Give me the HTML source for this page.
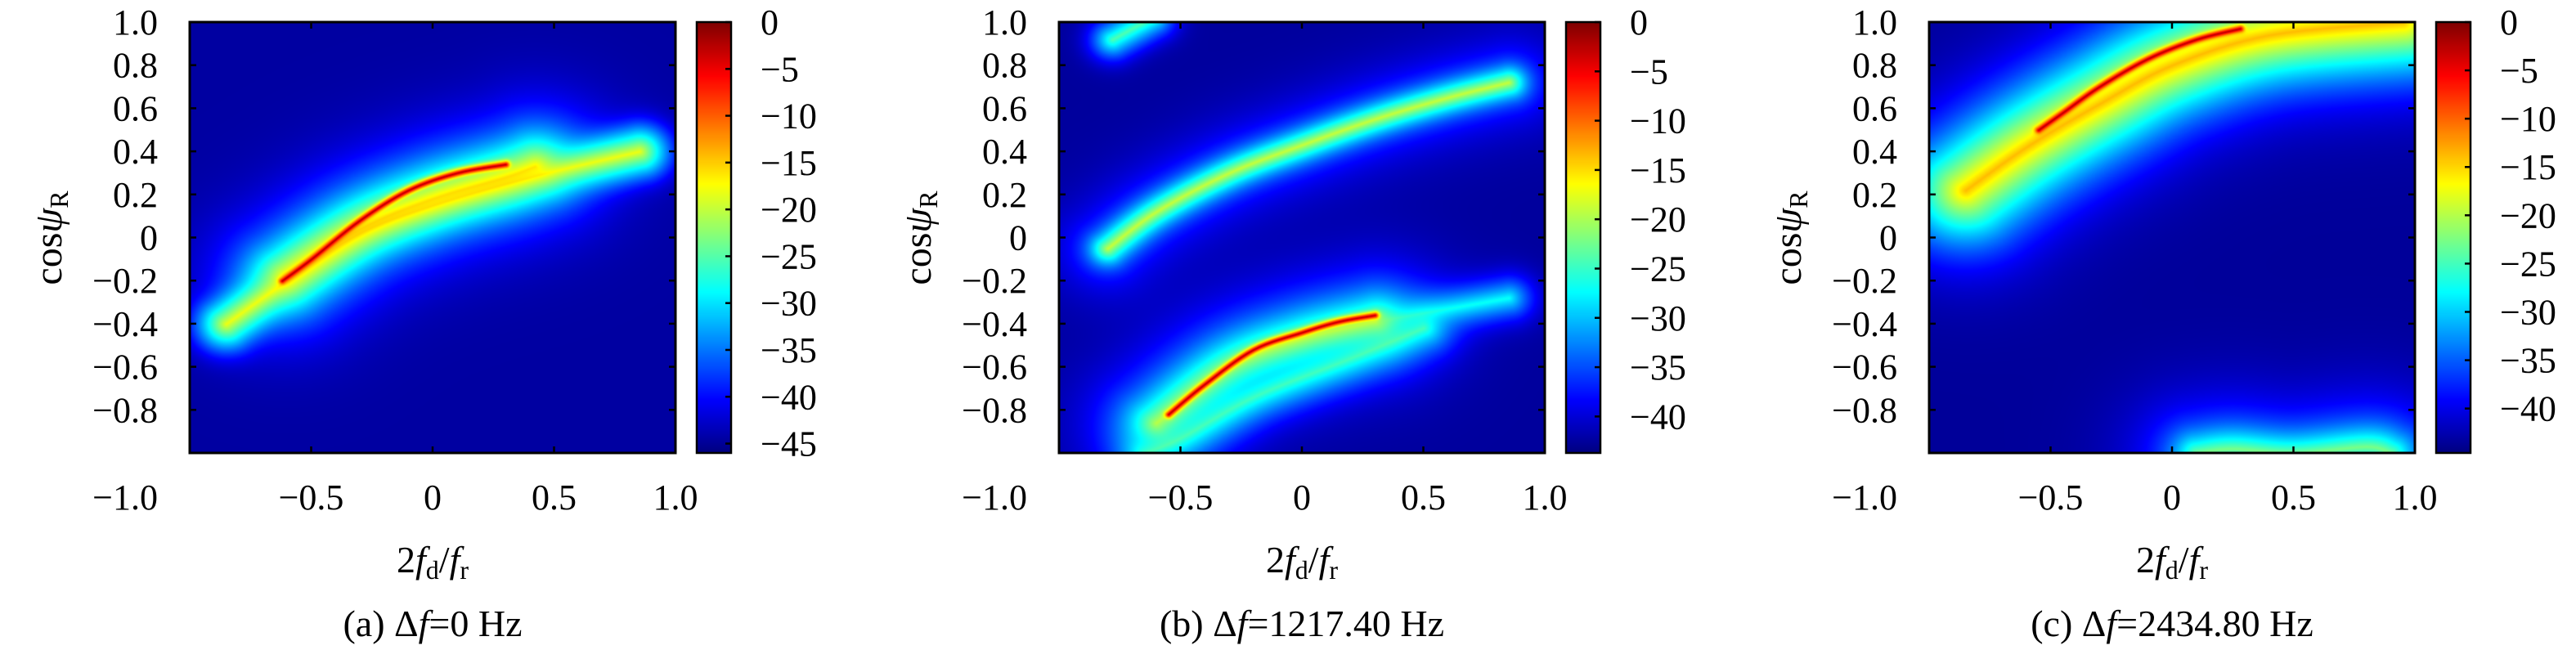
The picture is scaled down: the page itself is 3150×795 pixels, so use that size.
<!DOCTYPE html>
<html><head><meta charset="utf-8">
<style>
html,body{margin:0;padding:0;background:#fff;}
#root{position:relative;width:3150px;height:795px;overflow:hidden;background:#fff;}
canvas{position:absolute;}
svg{position:absolute;left:0;top:0;}
text{font-family:"Liberation Serif",serif;fill:#000;}
</style></head>
<body>
<div id="root">
<svg id="svg" width="3150" height="795"></svg>
</div>
<script>
// ---- data ----
const panelCaptionPrefix = ["(a) ", "(b) ", "(c) "];
const panelCaptionValue = ["=0 Hz", "=1217.40 Hz", "=2434.80 Hz"];
const cbarMin = [-46, -43.7, -44.6];
const cbarTicksA = [0, -5, -10, -15, -20, -25, -30, -35, -40, -45];
const cbarTicksBC = [0, -5, -10, -15, -20, -25, -30, -35, -40];
const floorDb = [-44.5, -42.5, -43.5];
const xTicks = [-0.5, 0, 0.5];
const xTickLabels = ["\u22120.5", "0", "0.5"];
const yTicks = [1.0, 0.8, 0.6, 0.4, 0.2, 0, -0.2, -0.4, -0.6, -0.8];
const yTickLabels = ["1.0", "0.8", "0.6", "0.4", "0.2", "0", "\u22120.2", "\u22120.4", "\u22120.6", "\u22120.8"];

// ridges: x-points, y-points, peak dB, fall-off slope (dB per axis unit)
const ridgeA1x = [-0.62, -0.5, -0.3, -0.1, 0.1, 0.3];
const ridgeA1y = [-0.2, -0.1, 0.08, 0.22, 0.3, 0.34];
const ridgeA2x = [-0.85, -0.6, -0.3, 0.0, 0.4, 0.85];
const ridgeA2y = [-0.4, -0.2, 0.02, 0.15, 0.28, 0.4];
const ridgeA3x = [-0.6, -0.3, 0.0, 0.3, 0.42];
const ridgeA3y = [-0.18, 0.04, 0.18, 0.28, 0.33];
const ridgesA = [
  {x: ridgeA1x, y: ridgeA1y, peak: -2, s: 900},
  {x: ridgeA3x, y: ridgeA3y, peak: -17, s: 115},
  {x: ridgeA2x, y: ridgeA2y, peak: -18, s: 150},
  {x: ridgeA3x, y: ridgeA3y, peak: -29, s: 45}
];
const ridgeB1x = [-0.8, -0.6, -0.3, 0.0, 0.3, 0.6, 0.85];
const ridgeB1y = [-0.05, 0.12, 0.3, 0.43, 0.55, 0.65, 0.72];
const ridgeB2x = [-0.78, -0.62];
const ridgeB2y = [0.92, 1.02];
const ridgeB3x = [-0.55, -0.4, -0.2, 0.0, 0.15, 0.3];
const ridgeB3y = [-0.82, -0.68, -0.52, -0.44, -0.39, -0.36];
const ridgeB4x = [-0.6, -0.3, 0.0, 0.3];
const ridgeB4y = [-0.86, -0.6, -0.47, -0.39];
const ridgeB5x = [0.35, 0.6, 0.85];
const ridgeB5y = [-0.38, -0.33, -0.28];
const ridgeB6x = [-0.65, -0.5, -0.2, 0.2, 0.5];
const ridgeB6y = [-1.0, -0.93, -0.74, -0.56, -0.42];
const ridgesB = [
  {x: ridgeB1x, y: ridgeB1y, peak: -19, s: 200},
  {x: ridgeB1x, y: ridgeB1y, peak: -33, s: 50},
  {x: ridgeB2x, y: ridgeB2y, peak: -24, s: 150},
  {x: ridgeB3x, y: ridgeB3y, peak: -2, s: 900},
  {x: ridgeB4x, y: ridgeB4y, peak: -20, s: 115},
  {x: ridgeB4x, y: ridgeB4y, peak: -29, s: 45},
  {x: ridgeB5x, y: ridgeB5y, peak: -27, s: 120},
  {x: ridgeB6x, y: ridgeB6y, peak: -25, s: 110}
];
const ridgeC1x = [-0.55, -0.45, -0.3, -0.1, 0.1, 0.28];
const ridgeC1y = [0.5, 0.58, 0.7, 0.83, 0.92, 0.97];
const ridgeC2x = [-0.85, -0.6, -0.3, 0.0, 0.4, 0.95];
const ridgeC2y = [0.22, 0.42, 0.62, 0.8, 0.94, 1.0];
const ridgeC3x = [0.1, 0.25, 0.5, 0.8, 0.9];
const ridgeC3y = [-1.0, -0.98, -1.0, -0.97, -1.0];
const ridgesC = [
  {x: ridgeC1x, y: ridgeC1y, peak: -2, s: 800},
  {x: ridgeC2x, y: ridgeC2y, peak: -14, s: 90},
  {x: ridgeC2x, y: ridgeC2y, peak: -27, s: 40},
  {x: ridgeC3x, y: ridgeC3y, peak: -23, s: 130},
  {x: ridgeC3x, y: ridgeC3y, peak: -33, s: 40}
];
const panelRidges = [ridgesA, ridgesB, ridgesC];

// ---- layout ----
const plotLeft = [232, 1295, 2359];
const plotW = 594, plotTop = 27, plotBottom = 554, plotH = plotBottom - plotTop;
const cbOff = 620, cbW = 42;

function jet(t){
  t = Math.max(0, Math.min(1, t));
  const c = v => Math.round(255 * Math.max(0, Math.min(1, v)));
  return [c(1.5 - Math.abs(4*t - 3)), c(1.5 - Math.abs(4*t - 2)), c(1.5 - Math.abs(4*t - 1))];
}
function segDist(px, py, ax, ay, bx, by){
  const dx = bx-ax, dy = by-ay;
  let t = ((px-ax)*dx + (py-ay)*dy) / (dx*dx + dy*dy);
  t = Math.max(0, Math.min(1, t));
  const ex = px - (ax + t*dx), ey = py - (ay + t*dy);
  return Math.sqrt(ex*ex + ey*ey);
}
function smooth(xs, ys){
  const n = xs.length; const ox = [], oy = [];
  if (n < 3){ return {x: xs.slice(), y: ys.slice()}; }
  for (let i = 0; i < n - 1; i++){
    const i0 = Math.max(0, i-1), i3 = Math.min(n-1, i+2);
    for (let s = 0; s < 8; s++){
      const t = s / 8, t2 = t*t, t3 = t2*t;
      const f = (p0,p1,p2,p3) => 0.5*((2*p1) + (-p0+p2)*t + (2*p0-5*p1+4*p2-p3)*t2 + (-p0+3*p1-3*p2+p3)*t3);
      ox.push(f(xs[i0], xs[i], xs[i+1], xs[i3]));
      oy.push(f(ys[i0], ys[i], ys[i+1], ys[i3]));
    }
  }
  ox.push(xs[n-1]); oy.push(ys[n-1]);
  return {x: ox, y: oy};
}
const root = document.getElementById('root');
const svg = document.getElementById('svg');
const NS = 'http://www.w3.org/2000/svg';
function mk(tag, attrs, txt){
  const e = document.createElementNS(NS, tag);
  for (const k in attrs) e.setAttribute(k, attrs[k]);
  if (txt !== undefined) e.textContent = txt;
  svg.appendChild(e);
  return e;
}

for (let p = 0; p < 3; p++){
  const L = plotLeft[p];
  const sx = v => L + (v + 1) / 2 * plotW;
  const sy = v => plotBottom - (v + 1) / 2 * plotH;
  const vmin = cbarMin[p];
  const cv = document.createElement('canvas');
  cv.width = plotW; cv.height = plotH;
  cv.style.left = L + 'px'; cv.style.top = plotTop + 'px';
  
  
  root.insertBefore(cv, svg);
  const ctx = cv.getContext('2d');
  const img = ctx.createImageData(plotW, plotH);
  const ridges = panelRidges[p].map(r => { const s = smooth(r.x, r.y); return {x: s.x, y: s.y, peak: r.peak, s: r.s}; });
  const fl = floorDb[p];
  const flP = Math.pow(10, fl / 10);
  for (let j = 0; j < plotH; j++){
    const yv = 1 - 2 * j / plotH;
    for (let i = 0; i < plotW; i++){
      const xv = -1 + 2 * i / plotW;
      let P = flP;
      for (const r of ridges){
        let d = 1e9;
        for (let k = 0; k < r.x.length - 1; k++){
          d = Math.min(d, segDist(xv, yv, r.x[k], r.y[k], r.x[k+1], r.y[k+1]));
        }
        P += Math.pow(10, (r.peak - r.s * d) / 10);
      }
      const v = Math.min(0, 10 * Math.log10(P));
      const col = jet((v - vmin) / (0 - vmin));
      const o = (j * plotW + i) * 4;
      img.data[o] = col[0]; img.data[o+1] = col[1]; img.data[o+2] = col[2]; img.data[o+3] = 255;
    }
  }
  ctx.putImageData(img, 0, 0);
  const cb = document.createElement('canvas');
  cb.width = cbW; cb.height = plotH;
  cb.style.left = (L + cbOff) + 'px'; cb.style.top = plotTop + 'px';
  
  
  root.insertBefore(cb, svg);
  const cctx = cb.getContext('2d');
  for (let j = 0; j < plotH; j++){
    const c = jet(1 - j / plotH);
    cctx.fillStyle = 'rgb(' + c.join(',') + ')';
    cctx.fillRect(0, j, cbW, 1);
  }
  const cbY = v => plotTop + (0 - v) / (0 - vmin) * plotH;
  mk('rect', {x: L + cbOff, y: plotTop, width: cbW, height: plotH, fill: 'none', stroke: '#000', 'stroke-width': 2.5,  });
  const cts = p === 0 ? cbarTicksA : cbarTicksBC;
  for (const t of cts){
    const y = cbY(t);
    mk('line', {x1: L + cbOff + cbW - 7, x2: L + cbOff + cbW, y1: y, y2: y, stroke: '#000', 'stroke-width': 2.5,  });
    mk('text', {x: L + cbOff + cbW + 36, y: y + 15, 'font-size': 44,  }, t === 0 ? '0' : '\u2212' + Math.abs(t));
  }
  mk('rect', {x: L, y: plotTop, width: plotW, height: plotH, fill: 'none', stroke: '#000', 'stroke-width': 3,  });
  yTicks.forEach((t, k) => {
    const y = sy(t);
    mk('line', {x1: L, x2: L + 8, y1: y, y2: y, stroke: '#000', 'stroke-width': 2.5,  });
    mk('line', {x1: L + plotW - 8, x2: L + plotW, y1: y, y2: y, stroke: '#000', 'stroke-width': 2.5,  });
    mk('text', {x: L - 39, y: y + 15, 'font-size': 44, 'text-anchor': 'end',  }, yTickLabels[k]);
  });
  xTicks.forEach((t, k) => {
    const x = sx(t);
    mk('line', {x1: x, x2: x, y1: plotBottom, y2: plotBottom - 8, stroke: '#000', 'stroke-width': 2.5,  });
    mk('line', {x1: x, x2: x, y1: plotTop, y2: plotTop + 8, stroke: '#000', 'stroke-width': 2.5,  });
    mk('text', {x: x, y: 623, 'font-size': 44, 'text-anchor': 'middle',  }, xTickLabels[k]);
  });
  mk('text', {x: L - 39, y: 623, 'font-size': 44, 'text-anchor': 'end',  }, '\u22121.0');
  mk('text', {x: L + plotW, y: 623, 'font-size': 44, 'text-anchor': 'middle',  }, '1.0');
  const xl = mk('text', {x: L + plotW / 2, y: 700, 'font-size': 46, 'text-anchor': 'middle',  });
  xl.innerHTML = '2<tspan font-style="italic">f</tspan><tspan font-size="32" dy="8">d</tspan><tspan dy="-8">/</tspan><tspan font-style="italic">f</tspan><tspan font-size="32" dy="8">r</tspan>';
  const yl = mk('text', {x: 0, y: 0, 'font-size': 48, 'text-anchor': 'middle', transform: 'translate(' + (L - 157) + ',291) rotate(-90)',  });
  yl.innerHTML = 'cos<tspan font-style="italic">\u03C8</tspan><tspan font-size="32" dy="8">R</tspan>';
  const cap = mk('text', {x: L + plotW / 2, y: 778, 'font-size': 46, 'text-anchor': 'middle',  });
  cap.innerHTML = panelCaptionPrefix[p] + '\u0394<tspan font-style="italic">f</tspan>' + panelCaptionValue[p];
}
</script>
</body></html>
